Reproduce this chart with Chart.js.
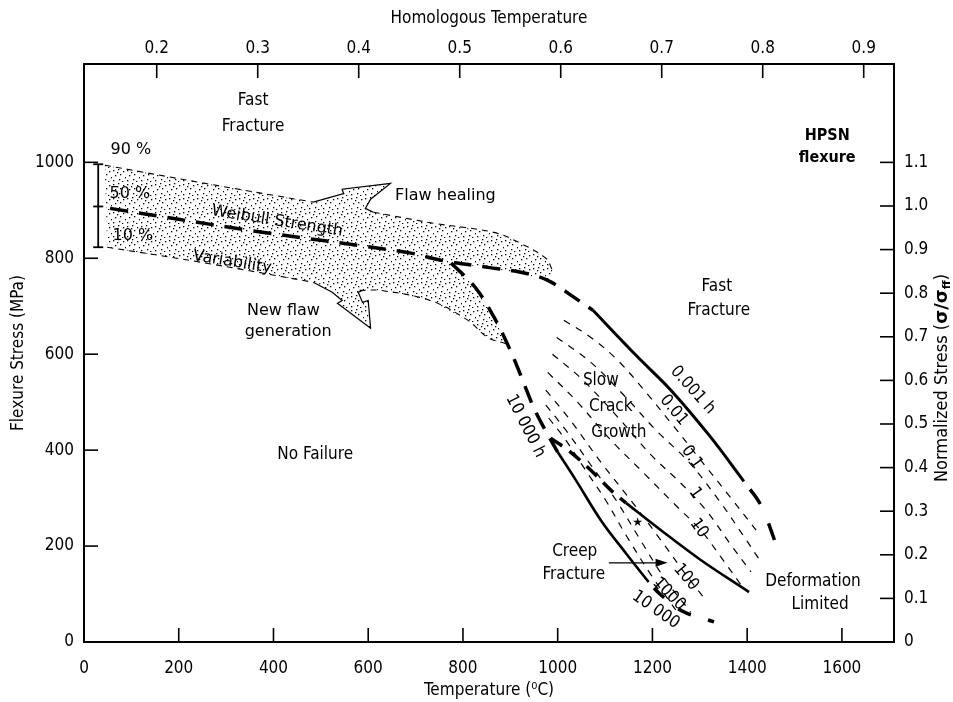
<!DOCTYPE html>
<html><head><meta charset="utf-8">
<script src="https://cdn.jsdelivr.net/npm/chart.js@4/dist/chart.umd.min.js"></script>
<style>html,body{margin:0;padding:0;background:#fff}canvas{display:block}</style>
</head><body>
<canvas id="c" width="953" height="702"></canvas>
<script>
// ---------- axis tick values ----------
const xTicks = [0,200,400,600,800,1000,1200,1400,1600];          // Temperature (°C)
const yTicks = [0,200,400,600,800,1000];                          // Flexure stress (MPa)
const homTicks = [0.2,0.3,0.4,0.5,0.6,0.7,0.8,0.9];               // Homologous temperature
const normTicks = [0,0.1,0.2,0.3,0.4,0.5,0.6,0.7,0.8,0.9,1.0,1.1]; // sigma / sigma_ff
const X_MAX = 1710, Y_MAX = 1205;
const HOM_MIN = 0.128, HOM_MAX = 0.930;
const SIGMA_FF = 909;

// ---------- curves [T (°C), stress (MPa)] ----------
const median50     = [[55,904],[351,858],[683,812],[753,796],[852,781],[922,771],[979,754],[1034,719],[1074,692]];
const fast0001     = [[1074,692],[1169,594],[1239,525],[1323,427],[1393,335]];
const fast0001Tail = [[1393,335],[1429,285],[1467,187]];
const crack10000h  = [[775,790],[827,738],[869,671],[900,608],[926,546],[947,494],[968,452],[1000,396]];
const creepA       = [[1000,396],[1038,338],[1091,254],[1144,185],[1192,125]];
const creepATail   = [[1192,125],[1218,98],[1266,63],[1330,42]];
const creepBDash   = [[985,425],[1027,396],[1070,358],[1116,313],[1144,290]];
const creepB       = [[1144,290],[1218,233],[1302,171],[1404,104]];
const scg001   = [[1013,671],[1070,635],[1127,587],[1186,521],[1243,452],[1302,379],[1366,300],[1419,233]];
const scg01    = [[998,635],[1070,583],[1144,510],[1207,442],[1277,375],[1340,296],[1391,223],[1429,167]];
const scg1     = [[989,600],[1049,550],[1123,473],[1197,390],[1260,331],[1313,275],[1366,202],[1408,146]];
const scg10    = [[979,562],[1038,504],[1112,421],[1186,348],[1249,285],[1302,233],[1349,171],[1387,119]];
const scg100   = [[975,525],[1027,462],[1091,375],[1154,296],[1218,212],[1271,140],[1313,87]];
const scg1000  = [[975,494],[1017,442],[1070,369],[1123,296],[1175,212],[1228,129],[1281,62]];
const scg10000 = [[981,467],[1017,421],[1059,358],[1101,296],[1144,223],[1197,140],[1249,67]];
const upper90a = [[44,994],[245,958],[484,917]];
const upper90b = [[611,896],[738,873],[865,854],[922,831],[975,800],[989,775]];
const lower10a = [[49,823],[245,792],[484,750]];
const lower10b = [[582,733],[626,733],[731,712],[810,671],[852,635],[890,622]];
const bandShape = [[44,994],[245,958],[484,917],[611,896],[738,873],[865,854],[922,831],[975,800],[989,775],[981,752],
                   [922,769],[852,781],[775,790],[827,738],[869,671],[890,622],[852,635],[810,671],[731,712],[626,733],
                   [582,733],[484,750],[245,792],[49,823]];
const arrowHeal = [[484,917],[548,935],[545,944],[647,956],[605,923],[594,904],[611,896]];
const arrowNew  = [[484,750],[524,729],[545,712],[535,706],[605,654],[600,712],[588,708],[579,729],[588,733]];
const errBar  = [[30,996],[30,823]];
const errCaps = [[30,996],[30,908],[30,823]];
const creepArrow = [[1108,165],[1232,165]];
const starMark = [[1169,248]];

// ---------- annotations [text, T, stress, rotation°, font kind] ----------
const labels = [
 ['Fast',357,1129,0,'c'],['Fracture',357,1075,0,'c'],
 ['HPSN',1569,1056,0,'b'],['flexure',1569,1010,0,'b'],
 ['90 %',99,1025,0,'g'],['50 %',97,935,0,'g'],['10 %',103,846,0,'g'],
 ['Weibull Strength',408,877,9,'g'],['Variability',313,792,9,'g'],
 ['Flaw healing',763,931,0,'g'],['New flaw',421,690,0,'g'],['generation',431,646,0,'g'],
 ['Fast',1336,740,0,'c'],['Fracture',1340,690,0,'c'],
 ['Slow',1091,544,0,'c'],['Crack',1112,490,0,'c'],['Growth',1129,437,0,'c'],
 ['No Failure',488,390,0,'c'],
 ['10 000 h',932,450,63,'c'],['0.001 h',1285,525,48,'c'],['0.01',1245,483,50,'c'],['0.1',1283,385,55,'c'],
 ['1',1290,310,55,'c'],['10',1298,237,55,'c'],['100',1271,135,50,'c'],['1000',1235,100,45,'c'],['10 000',1207,67,35,'c'],
 ['Creep',1036,188,0,'c'],['Fracture',1034,140,0,'c'],
 ['Deformation',1539,127,0,'c'],['Limited',1554,79,0,'c']
];

const FC = "'Liberation Sans Narrow','DejaVu Sans Condensed','Arial Narrow',sans-serif";
const FG = "'DejaVu Sans',sans-serif";
const pts = a => a.map(([x,y]) => ({x,y}));

const ctx0 = document.getElementById('c').getContext('2d');
function stipple(){
  const c = document.createElement('canvas'); c.width = 14; c.height = 14;
  const g = c.getContext('2d'); g.fillStyle = '#000';
  [[1,2],[6,1],[11,3],[3,7],[8,6],[13,9],[1,12],[7,11],[10,13],[5,4]].forEach(([x,y]) => g.fillRect(x,y,1.3,1.3));
  return ctx0.createPattern(c,'repeat');
}
const pat = stipple();

function L(data, w, dash, tension, order){
  return {data: pts(data), showLine:true, borderColor:'#000', borderWidth:w, borderDash:dash||[],
          pointRadius:0, tension: tension===undefined?0.35:tension, fill:false, order: order||1};
}
function shape(data, bw){
  return {data: pts(data), showLine:true, borderColor:'#000', borderWidth:bw, backgroundColor:pat,
          fill:'shape', pointRadius:0, tension:0, order:10};
}

const HEAVY = [18,11], THIN = [6,5], SCG = [7,7];
const datasets = [
  shape(bandShape,0),
  shape(arrowHeal,1.2),
  shape(arrowNew,1.2),
  L(median50,3.5,HEAVY),
  L(fast0001,3,[]),
  L(fast0001Tail,3.5,[0,10,18,11]),
  L(crack10000h,3.5,HEAVY),
  L(creepA,2.6,[]),
  L(creepATail,3.5,[0,8,14,10]),
  L(creepBDash,3.5,[14,9]),
  L(creepB,2.6,[]),
  L(scg001,1.2,SCG),L(scg01,1.2,SCG),L(scg1,1.2,SCG),L(scg10,1.2,SCG),
  L(scg100,1.2,SCG),L(scg1000,1.2,SCG),L(scg10000,1.2,SCG),
  L(upper90a,1.1,THIN),L(upper90b,1.1,THIN),L(lower10a,1.1,THIN),L(lower10b,1.1,THIN),
  L(errBar,1.8,[],0),
  {data: pts(errCaps), showLine:false, pointStyle:'line', pointRadius:5, borderColor:'#000', borderWidth:1.8, order:1}
];

const tickFont = {family: FC, size: 17};
const overlay = {
  id:'overlay',
  afterDraw(chart){
    const {ctx, chartArea:a, scales:s} = chart;
    ctx.save();
    ctx.strokeStyle = '#000'; ctx.fillStyle = '#000'; ctx.lineWidth = 1.6;
    const seg = (x1,y1,x2,y2) => {ctx.beginPath(); ctx.moveTo(x1,y1); ctx.lineTo(x2,y2); ctx.stroke();};
    const TL = 14;
    xTicks.forEach(v => { if (v===0) return; const p = s.x.getPixelForValue(v); seg(p,a.bottom,p,a.bottom-TL); });
    yTicks.forEach(v => { if (v===0) return; const p = s.y.getPixelForValue(v); seg(a.left,p,a.left+TL,p); });
    homTicks.forEach(v => { const p = s.x2.getPixelForValue(v); seg(p,a.top,p,a.top+TL); });
    normTicks.forEach(v => { if (v===0) return; const p = s.y2.getPixelForValue(v); seg(a.right,p,a.right-TL,p); });

    // annotations
    ctx.textAlign = 'center'; ctx.textBaseline = 'middle';
    labels.forEach(([t,x,y,r,k]) => {
      const px = s.x.getPixelForValue(x), py = s.y.getPixelForValue(y);
      ctx.font = k==='g' ? `16px ${FG}` : (k==='b' ? `bold 16px ${FC}` : `17px ${FC}`);
      ctx.save(); ctx.translate(px,py); ctx.rotate(r*Math.PI/180); ctx.fillText(t,0,0); ctx.restore();
    });

    // creep fracture arrow
    const ax1 = s.x.getPixelForValue(creepArrow[0][0]), ay1 = s.y.getPixelForValue(creepArrow[0][1]);
    const ax2 = s.x.getPixelForValue(creepArrow[1][0]), ay2 = s.y.getPixelForValue(creepArrow[1][1]);
    ctx.lineWidth = 1.4; seg(ax1,ay1,ax2-4,ay2);
    ctx.beginPath(); ctx.moveTo(ax2,ay2); ctx.lineTo(ax2-12,ay2-4); ctx.lineTo(ax2-12,ay2+4); ctx.closePath(); ctx.fill();

    // star
    ctx.font = `12px ${FG}`;
    starMark.forEach(([x,y]) => ctx.fillText('★', s.x.getPixelForValue(x), s.y.getPixelForValue(y)));

    // right axis title with subscript
    ctx.save();
    ctx.translate(942, 378); ctx.rotate(-Math.PI/2);
    ctx.textAlign = 'left'; ctx.textBaseline = 'middle';
    const f1 = `18px ${FC}`, f2 = `bold 18px ${FG}`, f3 = `bold 11px ${FG}`;
    const p1 = 'Normalized Stress (', p2 = 'σ/σ', p3 = 'ff', p4 = ')';
    ctx.font = f1; const w1 = ctx.measureText(p1).width, w4 = ctx.measureText(p4).width;
    ctx.font = f2; const w2 = ctx.measureText(p2).width;
    ctx.font = f3; const w3 = ctx.measureText(p3).width;
    let x = -(w1+w2+w3+w4)/2;
    ctx.font = f1; ctx.fillText(p1,x,0); x += w1;
    ctx.font = f2; ctx.fillText(p2,x,0); x += w2;
    ctx.font = f3; ctx.fillText(p3,x,5); x += w3;
    ctx.font = f1; ctx.fillText(p4,x,0);
    ctx.restore();
    ctx.restore();
  }
};

const noGrid = {display:false, drawTicks:false};
new Chart(ctx0, {
  type:'scatter',
  data:{datasets},
  options:{
    responsive:false, animation:false,
    layout:{padding:0},
    plugins:{legend:{display:false}, tooltip:{enabled:false}},
    scales:{
      x:{type:'linear', position:'bottom', min:0, max:X_MAX,
         afterBuildTicks: sc => { sc.ticks = xTicks.map(v => ({value:v})); },
         afterFit: sc => { sc.height = 60; },
         ticks:{font:tickFont, color:'#000', padding:16, maxRotation:0, autoSkip:false, callback: v => String(v)},
         grid:noGrid, border:{display:true, color:'#000', width:2},
         title:{display:true, text:'Temperature (⁰C)', font:{family:FC,size:17}, color:'#000', padding:{top:0,bottom:1}}},
      y:{type:'linear', position:'left', min:0, max:Y_MAX,
         afterBuildTicks: sc => { sc.ticks = yTicks.map(v => ({value:v})); },
         afterFit: sc => { sc.width = 84; },
         ticks:{font:tickFont, color:'#000', padding:10, autoSkip:false, callback: v => String(v)},
         grid:noGrid, border:{display:true, color:'#000', width:2},
         title:{display:true, text:'Flexure Stress (MPa)', font:{family:FC,size:17}, color:'#000', padding:{top:8,bottom:0}}},
      x2:{type:'linear', position:'top', min:HOM_MIN, max:HOM_MAX, display:true,
         afterBuildTicks: sc => { sc.ticks = homTicks.map(v => ({value:v})); },
         afterFit: sc => { sc.height = 64; },
         ticks:{font:tickFont, color:'#000', padding:5, maxRotation:0, autoSkip:false, callback: v => v.toFixed(1)},
         grid:noGrid, border:{display:true, color:'#000', width:2},
         title:{display:true, text:'Homologous Temperature', font:{family:FC,size:17}, color:'#000', padding:{top:8,bottom:0}}},
      y2:{type:'linear', position:'right', min:0, max:Y_MAX/SIGMA_FF, display:true,
         afterBuildTicks: sc => { sc.ticks = normTicks.map(v => ({value:v})); },
         afterFit: sc => { sc.width = 59; },
         ticks:{font:tickFont, color:'#000', padding:10, autoSkip:false, callback: v => v===0 ? '0' : v.toFixed(1)},
         grid:noGrid, border:{display:true, color:'#000', width:2}}
    }
  },
  plugins:[overlay]
});
</script>
</body></html>
